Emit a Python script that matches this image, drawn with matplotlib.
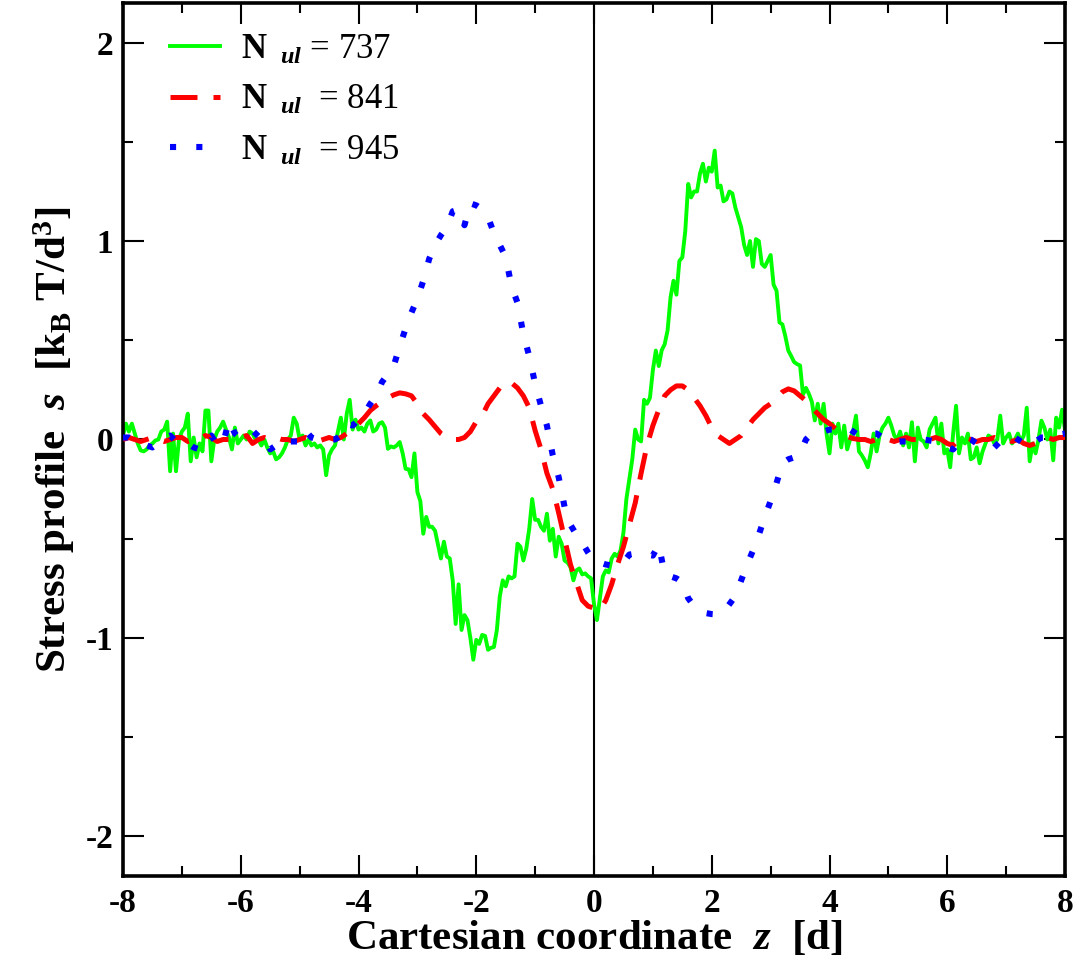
import numpy as np
import matplotlib
matplotlib.use("Agg")
import matplotlib.pyplot as plt
from matplotlib.ticker import MultipleLocator

plt.rcParams['font.family'] = ['Liberation Serif', 'DejaVu Serif']
plt.rcParams['axes.unicode_minus'] = False
plt.rcParams['mathtext.fontset'] = 'custom'
plt.rcParams['mathtext.rm'] = 'Liberation Serif'
plt.rcParams['mathtext.it'] = 'Liberation Serif:italic'
plt.rcParams['mathtext.bf'] = 'Liberation Serif:bold'
try:
    plt.rcParams['mathtext.bfit'] = 'Liberation Serif:italic:bold'
    BFIT = r'\mathbfit'
except KeyError:
    BFIT = r'\mathit'

# ---- data ----
labels = ['737', '841', '945']

# green (N_ul = 737), step 0.05 from -8 to 8
green = (
    [0.02, 0.08, 0.04, 0.08, 0.03, -0.02, -0.055, -0.06, -0.05, -0.03, -0.02, -0.005, 0.0, 0.04, 0.05, 0.09, -0.16, 0.03, -0.16, 0.0]
    + [0.04, 0.06, 0.13, -0.11, 0.01, -0.09, -0.02, -0.06, 0.146, 0.146, -0.11, 0.0, 0.04, 0.06, 0.09, 0.05, 0.01, -0.05, 0.06, -0.02]
    + [0.0, 0.02, 0.0, 0.04, 0.03, 0.0, 0.0, -0.03, 0.0, -0.04, -0.07, -0.06, -0.1, -0.09, -0.07, -0.04, 0.0, 0.02, 0.11, 0.08]
    + [0.0, 0.02, -0.03, 0.0, -0.03, -0.02, -0.04, -0.03, -0.05, -0.18, -0.08, -0.05, -0.03, 0.04, 0.11, 0.0, 0.13, 0.2, 0.05, 0.1]
    + [0.05, 0.06, 0.04, 0.08, 0.096, 0.04, 0.05, 0.08, 0.087, 0.06, -0.047, -0.035, -0.04, -0.03, -0.013, -0.07, -0.148, -0.15, -0.19, -0.07]
    + [-0.265, -0.31, -0.475, -0.39, -0.44, -0.44, -0.46, -0.53, -0.6, -0.515, -0.59, -0.6, -0.71, -0.93, -0.73, -0.96, -0.885, -0.91, -1.0, -1.11]
    + [-1.01, -1.03, -0.985, -0.99, -1.06, -1.05, -1.046, -0.96, -0.79, -0.71, -0.74, -0.69, -0.70, -0.69, -0.525, -0.54, -0.61, -0.55, -0.45, -0.3]
    + [-0.405, -0.405, -0.44, -0.46, -0.374, -0.51, -0.45, -0.59, -0.49, -0.525, -0.61, -0.62, -0.643, -0.71, -0.66, -0.65, -0.68, -0.675, -0.69, -0.70]
    + [-0.83, -0.91, -0.80, -0.69, -0.66, -0.67, -0.60, -0.576, -0.59, -0.56, -0.47, -0.30, -0.20, -0.10, 0.05, 0.0, -0.01, 0.20, 0.18, 0.21]
    + [0.35, 0.448, 0.37, 0.45, 0.48, 0.55, 0.717, 0.80, 0.73, 0.90, 0.918, 1.05, 1.288, 1.22, 1.25, 1.25, 1.34, 1.39, 1.30, 1.37]
    + [1.35, 1.456, 1.27, 1.28, 1.20, 1.21, 1.25, 1.24, 1.17, 1.12, 1.07, 0.98, 0.93, 1.00, 0.87, 1.01, 1.0, 0.885, 0.87, 0.90]
    + [0.93, 0.78, 0.75, 0.59, 0.58, 0.52, 0.448, 0.42, 0.39, 0.38, 0.373, 0.226, 0.26, 0.23, 0.19, 0.096, 0.18, 0.08, 0.18, 0.03]
    + [-0.07, 0.08, 0.03, 0.08, -0.04, 0.07, -0.05, 0.0, 0.04, 0.12, -0.06, -0.08, -0.106, -0.14, -0.07, 0.03, -0.06, 0.02, 0.06, 0.08]
    + [0.11, 0.07, 0.02, 0.0, 0.04, -0.03, 0.03, -0.04, 0.087, -0.11, 0.06, 0.0, -0.01, -0.04, 0.05, 0.08, 0.11, -0.02, 0.08, -0.07]
    + [-0.05, -0.14, 0.03, 0.17, -0.07, 0.01, -0.02, 0.03, -0.1, -0.09, -0.04, -0.12, -0.06, -0.02, 0.02, 0.01, -0.02, 0.0, 0.12, -0.02]
    + [0.01, 0.03, -0.02, 0.0, 0.03, -0.01, 0.02, 0.16, -0.11, -0.02, -0.07, 0.0, 0.095, 0.06, 0.0, 0.05, -0.105, 0.11, 0.06, 0.15]
    + [0.05]
)

# red (N_ul = 841), step 0.1 from -8 to 8
red = (
    [0.0, 0.01, 0.0, -0.01, 0.0, 0.01, 0.0, -0.01, 0.0, 0.01]
    + [0.01, -0.01, 0.0, 0.0, 0.02, 0.01, -0.01, 0.0, 0.0, 0.01]
    + [0.01, 0.02, -0.02, 0.0, 0.01, 0.0, 0.01, 0.0, 0.0, -0.01]
    + [0.0, 0.01, 0.0, -0.01, 0.0, 0.01, 0.0, 0.01, 0.03, 0.05]
    + [0.08, 0.11, 0.146, 0.17, 0.19, 0.21, 0.225, 0.235, 0.23, 0.22]
    + [0.18, 0.13, 0.10, 0.065, 0.03, 0.01, 0.0, 0.0, 0.01, 0.04]
    + [0.09, 0.12, 0.18, 0.22, 0.26, 0.29, 0.285, 0.26, 0.22, 0.16]
    + [0.045, -0.05, -0.17, -0.25, -0.37, -0.50, -0.63, -0.72, -0.81, -0.84]
    + [-0.85, -0.86, -0.81, -0.73, -0.63, -0.54, -0.43, -0.32, -0.17, -0.03]
    + [0.07, 0.15, 0.22, 0.25, 0.27, 0.27, 0.25, 0.21, 0.17, 0.12]
    + [0.06, 0.02, 0.0, -0.02, 0.0, 0.02, 0.06, 0.10, 0.13, 0.16]
    + [0.18, 0.21, 0.24, 0.255, 0.245, 0.22, 0.196, 0.16, 0.13, 0.10]
    + [0.08, 0.055, 0.03, 0.015, 0.005, 0.0, 0.0, -0.01, 0.0, 0.01]
    + [0.0, -0.01, 0.0, 0.01, 0.0, 0.0, 0.01, 0.0, 0.01, 0.0]
    + [-0.02, -0.03, 0.0, 0.01, 0.0, -0.01, 0.0, 0.0, 0.01, 0.0]
    + [0.0, -0.01, 0.0, -0.02, -0.03, -0.02, 0.0, 0.01, 0.0, 0.01]
    + [0.01]
)

# blue (N_ul = 945), step 0.1 from -8 to 8
blue = (
    [0.01, 0.01, -0.01, -0.02, -0.03, -0.04, -0.02, 0.01, 0.02, -0.01]
    + [-0.01, -0.02, -0.04, -0.05, 0.0, 0.02, -0.03, -0.02, 0.096, 0.03]
    + [0.0, 0.0, 0.01, 0.04, 0.0, -0.05, -0.03, 0.0, -0.01, -0.01]
    + [-0.01, 0.045, 0.01, 0.0, 0.0, 0.0, 0.0, 0.02, 0.08, 0.07]
    + [0.10, 0.13, 0.18, 0.22, 0.29, 0.33, 0.373, 0.47, 0.56, 0.64]
    + [0.71, 0.80, 0.91, 0.98, 1.03, 1.07, 1.15, 1.16, 1.08, 1.19]
    + [1.18, 1.16, 1.12, 1.04, 0.98, 0.92, 0.77, 0.69, 0.53, 0.42]
    + [0.28, 0.17, 0.07, -0.08, -0.19, -0.34, -0.43, -0.48, -0.52, -0.57]
    + [-0.615, -0.62, -0.63, -0.635, -0.63, -0.62, -0.58, -0.575, -0.573, -0.58]
    + [-0.585, -0.53, -0.68, -0.69, -0.70, -0.72, -0.80, -0.84, -0.86, -0.875]
    + [-0.88, -0.882, -0.87, -0.83, -0.79, -0.71, -0.63, -0.56, -0.48, -0.39]
    + [-0.31, -0.22, -0.12, -0.10, -0.09, -0.07, 0.0, 0.03, 0.037, 0.04]
    + [0.05, 0.05, 0.055, 0.06, 0.04, 0.02, 0.02, 0.03, 0.03, 0.01]
    + [0.0, -0.013, -0.01, -0.01, -0.005, 0.0, 0.0, -0.005, -0.01, -0.02]
    + [-0.04, -0.05, -0.01, 0.01, 0.0, -0.02, -0.04, -0.04, -0.04, -0.01]
    + [0.0, 0.02, 0.0, -0.02, -0.035, -0.01, 0.01, 0.01, 0.02, 0.025]
    + [0.03]
)

z_green = np.linspace(-8, 8, len(green))
z_red = np.linspace(-8, 8, len(red))
z_blue = np.linspace(-8, 8, len(blue))

# ---- figure ----
fig = plt.figure(figsize=(10.81, 9.69), dpi=100)
ax = fig.add_axes([0.1138, 0.0960, 0.8714, 0.9009])

ax.axvline(0, color='black', lw=1.5, zorder=1)

def lab(n, sp):
    return r'$\mathbf{N}_{\enspace\;' + BFIT + r'{ul}}$' + sp + '= ' + n

ax.plot(z_green, green, color='#00ff00', lw=2.8, label=lab(labels[0], ' '), zorder=2)
ax.plot(z_red, red, color='#ff0000', lw=3.6, linestyle=(0, (5.4, 3.2)),
        label=lab(labels[1], '  '), zorder=3)
ax.plot(z_blue, blue, color='#0000ff', lw=4.4, linestyle=(0, (1.0, 3.3)),
        label=lab(labels[2], '  '), zorder=4)

ax.set_xlim(-8, 8)
ax.set_ylim(-2.2, 2.2)
ax.xaxis.set_major_locator(MultipleLocator(2))
ax.xaxis.set_minor_locator(MultipleLocator(1))
ax.yaxis.set_major_locator(MultipleLocator(1))
ax.yaxis.set_minor_locator(MultipleLocator(0.5))
ax.tick_params(which='both', direction='in', top=True, right=True, width=1.5)
ax.tick_params(which='major', length=15, labelsize=24)
ax.tick_params(which='minor', length=7)
ax.tick_params(axis='x', which='major', pad=9)
ax.tick_params(axis='y', which='major', pad=7)
for t in ax.get_xticklabels() + ax.get_yticklabels():
    t.set_fontweight('bold')
for s in ax.spines.values():
    s.set_linewidth(2.6)

ax.set_xlabel(r'Cartesian coordinate  $' + BFIT + r'{z}$  [d]', fontsize=31, fontweight='bold', labelpad=0)
ax.set_ylabel(r'Stress profile  $' + BFIT + r'{s}$  [k$_{\mathbf{B}}$ T/d$^{\mathbf{3}}$]',
              fontsize=31, fontweight='bold', labelpad=6)

leg = ax.legend(loc='upper left', frameon=False, fontsize=25, handlelength=1.45,
                handletextpad=0.6, labelspacing=0.5, borderaxespad=0.4,
                bbox_to_anchor=(0.02, 0.997))

fig.savefig('out.png', dpi=100)
